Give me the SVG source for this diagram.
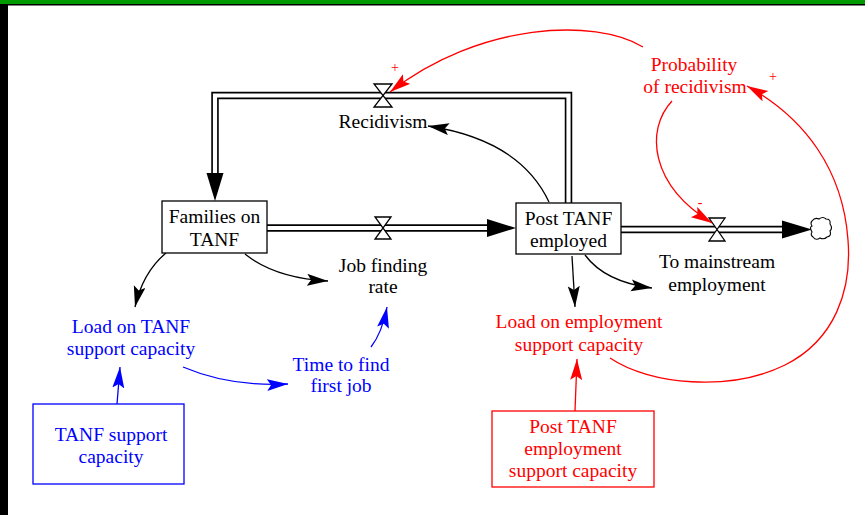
<svg xmlns="http://www.w3.org/2000/svg" width="865" height="515" viewBox="0 0 865 515">
  <style>
    text { font-family: "Liberation Serif", "Times New Roman", serif; font-size: 19.5px; text-anchor: middle; }
    .k { fill: #000; }
    .b { fill: #0000ff; }
    .r { fill: #ff0000; }
    .box { fill: #fff; stroke: #000; stroke-width: 1.3; }
    .boxb { fill: #fff; stroke: #0000ff; stroke-width: 1.3; }
    .boxr { fill: #fff; stroke: #ff0000; stroke-width: 1.3; }
    .pipeo { fill: none; stroke: #000; stroke-width: 7.5; stroke-linejoin: miter; }
    .pipei { fill: none; stroke: #fff; stroke-width: 4.2; stroke-linejoin: miter; }
    .valve { fill: #fff; stroke: #000; stroke-width: 1.3; }
    .lk { fill: none; stroke: #000; stroke-width: 1.3; }
    .lb { fill: none; stroke: #0000ff; stroke-width: 1.3; }
    .lr { fill: none; stroke: #ff0000; stroke-width: 1.3; }
    .pol { font-size: 14px; fill: #ff0000; }
  </style>
  <defs>
    <marker id="ak" markerUnits="userSpaceOnUse" markerWidth="22" markerHeight="14" refX="21" refY="6" orient="auto" viewBox="0 0 22 14">
      <path d="M0,0 L21,6 L0,12 L4,6 Z" fill="#000"/>
    </marker>
    <marker id="ab" markerUnits="userSpaceOnUse" markerWidth="22" markerHeight="14" refX="21" refY="6" orient="auto" viewBox="0 0 22 14">
      <path d="M0,0 L21,6 L0,12 L4,6 Z" fill="#0000ff"/>
    </marker>
    <marker id="ar" markerUnits="userSpaceOnUse" markerWidth="22" markerHeight="14" refX="21" refY="6" orient="auto" viewBox="0 0 22 14">
      <path d="M0,0 L21,6 L0,12 L4,6 Z" fill="#ff0000"/>
    </marker>
  </defs>

  <!-- window frame -->
  <rect x="0" y="0" width="865" height="515" fill="#fff"/>
  <rect x="0" y="0" width="865" height="4.5" fill="#009a00"/>
  <rect x="0" y="4" width="865" height="1.5" fill="#000"/>
  <rect x="0" y="4" width="8" height="511" fill="#000"/>

  <!-- stock-and-flow pipes -->
  <g id="flows">
    <!-- Job finding rate -->
    <g id="flow-job-finding">
      <path class="pipeo" d="M267,228 H490"/>
      <path class="pipei" d="M267,228 H490"/>
      <path d="M487,219 L516,228 L487,237 Z" fill="#000"/>
      <path class="valve" d="M375,217 H391 L375,239 H391 Z"/>
    </g>
    <!-- Recidivism -->
    <g id="flow-recidivism">
      <path class="pipeo" d="M568.5,203 V95.5 H215 V176"/>
      <path class="pipei" d="M568.5,203 V95.5 H215 V176"/>
      <path d="M206.5,173 L215,201 L223.5,173 Z" fill="#000"/>
      <path class="valve" d="M374,84 H392 L374,107 H392 Z"/>
    </g>
    <!-- To mainstream employment -->
    <g id="flow-mainstream">
      <path class="pipeo" d="M621,229.5 H785"/>
      <path class="pipei" d="M621,229.5 H785"/>
      <path d="M782,220.5 L812,229.5 L782,238.5 Z" fill="#000"/>
      <path class="valve" d="M709,218 H725 L709,241 H725 Z"/>
      <path id="cloud" d="M812,221 q3,-4 7,-2 q4,-3 7,0 q5,0 4,5 q3,4 0,7 q2,5 -3,6 q-3,3 -7,1 q-4,3 -7,-1 q-3,-2 -1,-5 q-3,-5 0,-6 q-2,-3 0,-5 Z" fill="#fff" stroke="#000" stroke-width="1.1"/>
    </g>
  </g>

  <!-- information links -->
  <g id="links">
    <path class="lk" d="M549,202 Q520,140 428,126" marker-end="url(#ak)"/>
    <path class="lk" d="M166,253 Q143,272 135,307" marker-end="url(#ak)"/>
    <path class="lk" d="M245,254 Q275,278 328,281" marker-end="url(#ak)"/>
    <path class="lk" d="M572,256 L575,307" marker-end="url(#ak)"/>
    <path class="lk" d="M585,255 Q605,282 652,288" marker-end="url(#ak)"/>

    <path class="lb" d="M117,404 L120,367" marker-end="url(#ab)"/>
    <path class="lb" d="M183,367 Q230,387 288,384" marker-end="url(#ab)"/>
    <path class="lb" d="M371,347 Q382,333 387,307" marker-end="url(#ab)"/>

    <path class="lr" d="M575,411 L577,359" marker-end="url(#ar)"/>
    <path class="lr" d="M610,358 C650,385 730,392 785,365 C835,340 852,290 848,240 C843,170 805,118 747,86" marker-end="url(#ar)"/>
    <path class="lr" d="M672,101 C645,130 650,185 712,223" marker-end="url(#ar)"/>
    <path class="lr" d="M643,47 C595,18 480,22 390,92" marker-end="url(#ar)"/>

    <text class="pol" x="395" y="72">+</text>
    <text class="pol" x="773" y="81">+</text>
    <text class="pol" x="700" y="207">-</text>
  </g>

  <!-- stocks -->
  <g id="families-on-tanf">
    <rect class="box" x="162" y="201" width="105" height="52"/>
    <text class="k" x="214.5" y="223">Families on</text>
    <text class="k" x="214.5" y="246">TANF</text>
  </g>
  <g id="post-tanf-employed">
    <rect class="box" x="516" y="203" width="105" height="51"/>
    <text class="k" x="568.5" y="225">Post TANF</text>
    <text class="k" x="568.5" y="247">employed</text>
  </g>

  <!-- flow labels -->
  <g id="recidivism-label">
    <text class="k" x="383" y="128">Recidivism</text>
  </g>
  <g id="job-finding-rate">
    <text class="k" x="383" y="272">Job finding</text>
    <text class="k" x="383" y="293">rate</text>
  </g>
  <g id="to-mainstream">
    <text class="k" x="717" y="268">To mainstream</text>
    <text class="k" x="717" y="291">employment</text>
  </g>

  <!-- auxiliaries -->
  <g id="load-on-tanf">
    <text class="b" x="131" y="333">Load on TANF</text>
    <text class="b" x="131" y="355">support capacity</text>
  </g>
  <g id="time-to-find">
    <text class="b" x="341" y="371">Time to find</text>
    <text class="b" x="341" y="392">first job</text>
  </g>
  <g id="tanf-support-capacity">
    <rect class="boxb" x="33" y="404" width="151" height="80"/>
    <text class="b" x="111" y="441">TANF support</text>
    <text class="b" x="111" y="463">capacity</text>
  </g>
  <g id="load-on-employment">
    <text class="r" x="579" y="328">Load on employment</text>
    <text class="r" x="579" y="351">support capacity</text>
  </g>
  <g id="post-tanf-employment-capacity">
    <rect class="boxr" x="492" y="411" width="162" height="76"/>
    <text class="r" x="573" y="433">Post TANF</text>
    <text class="r" x="573" y="455">employment</text>
    <text class="r" x="573" y="477">support capacity</text>
  </g>
  <g id="probability-of-recidivism">
    <text class="r" x="694" y="71">Probability</text>
    <text class="r" x="695" y="93">of recidivism</text>
  </g>
</svg>
